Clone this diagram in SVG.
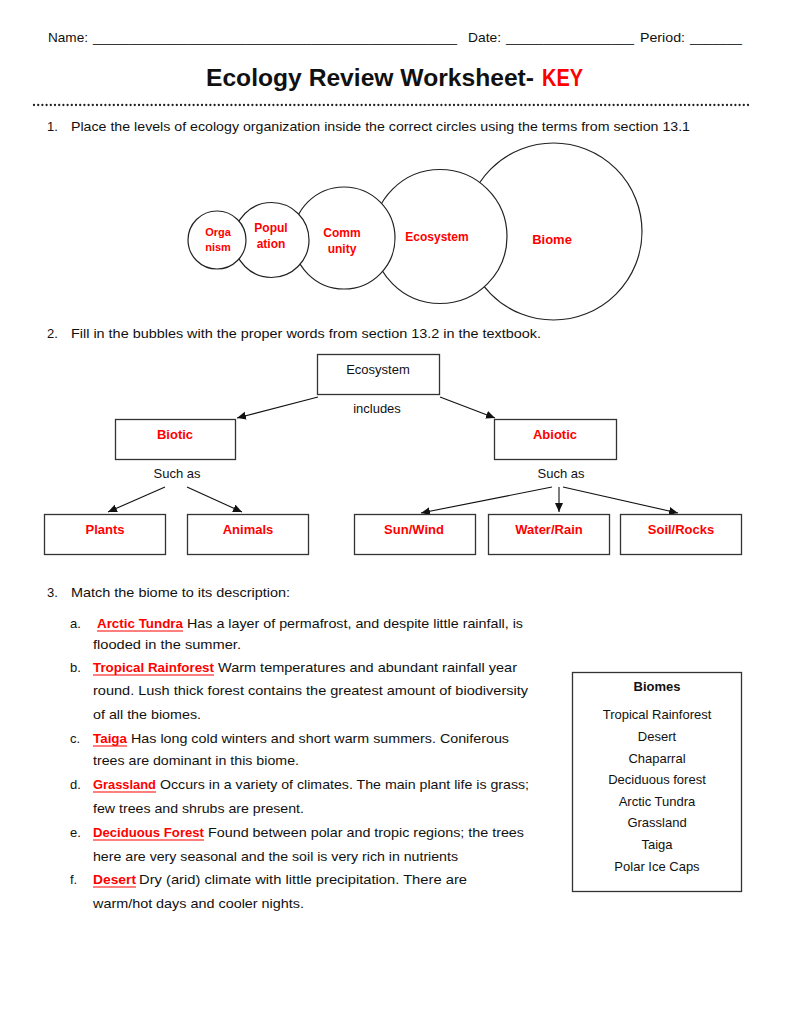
<svg xmlns="http://www.w3.org/2000/svg" width="791" height="1024" viewBox="0 0 791 1024">
<style>
text{font-family:"Liberation Sans",Arial,sans-serif;fill:#111}
.t{font-size:13px}
.red{fill:#ff0000;font-weight:bold}
.b{font-weight:bold}
.box{fill:#fff;stroke:#333;stroke-width:1.3}
.circ{fill:#fff;stroke:#222;stroke-width:1.2}
.cl{font-size:11.5px;fill:#ff0000;font-weight:bold;text-anchor:middle}
.fl{font-size:13px;fill:#ff0000;font-weight:bold;text-anchor:middle}
.conn line{stroke:#111;stroke-width:1.1;marker-end:url(#ah)}
.ul{stroke:#ff0000;stroke-width:1.1}
.mid{text-anchor:middle}
</style>
<defs>
<marker id="ah" markerUnits="userSpaceOnUse" markerWidth="10" markerHeight="10" refX="9" refY="4" orient="auto">
<path d="M0,0 L9,4 L0,8 Z" fill="#111"/>
</marker>
</defs>
<rect width="791" height="1024" fill="#fff"/>

<g id="header">
<text class="t" x="48" y="42" textLength="40" lengthAdjust="spacingAndGlyphs">Name:</text>
<text class="t" x="93" y="42" textLength="364" lengthAdjust="spacingAndGlyphs">__________________________________________________</text>
<text class="t" x="468" y="42" textLength="33" lengthAdjust="spacingAndGlyphs">Date:</text>
<text class="t" x="506" y="42" textLength="128" lengthAdjust="spacingAndGlyphs">_________________</text>
<text class="t" x="640" y="42" textLength="45" lengthAdjust="spacingAndGlyphs">Period:</text>
<text class="t" x="690" y="42" textLength="52" lengthAdjust="spacingAndGlyphs">_______</text>
<text x="206" y="86" font-size="24.5" font-weight="bold" textLength="328" lengthAdjust="spacingAndGlyphs">Ecology Review Worksheet-</text>
<text x="542" y="86" font-size="24.5" font-weight="bold" style="fill:#ff0000" textLength="41" lengthAdjust="spacingAndGlyphs">KEY</text>
<line x1="34" y1="105" x2="750" y2="105" stroke="#222" stroke-width="2.3" stroke-linecap="round" stroke-dasharray="0 4.2"/>
</g>

<g id="q1">
<text class="t" x="47" y="131">1.</text>
<text class="t" x="71" y="131" textLength="619" lengthAdjust="spacingAndGlyphs">Place the levels of ecology organization inside the correct circles using the terms from section 13.1</text>
</g>

<g id="circle-biome">
<circle class="circ" cx="553.5" cy="231.5" r="88.5"/>
<text class="cl" x="552" y="244" style="font-size:13px">Biome</text>
</g>
<g id="circle-ecosystem">
<circle class="circ" cx="440" cy="236.5" r="67"/>
<text class="cl" x="437" y="241" style="font-size:12px">Ecosystem</text>
</g>
<g id="circle-community">
<circle class="circ" cx="344" cy="238" r="51"/>
<text class="cl" x="342" y="237" style="font-size:12px">Comm</text>
<text class="cl" x="342" y="253" style="font-size:12px">unity</text>
</g>
<g id="circle-population">
<circle class="circ" cx="271.5" cy="240" r="37.5"/>
<text class="cl" x="271" y="232" style="font-size:12px">Popul</text>
<text class="cl" x="271" y="248" style="font-size:12px">ation</text>
</g>
<g id="circle-organism">
<circle class="circ" cx="217" cy="240" r="29"/>
<text class="cl" x="218" y="236" style="font-size:11px">Orga</text>
<text class="cl" x="218" y="251" style="font-size:11px">nism</text>
</g>

<g id="q2">
<text class="t" x="47" y="338">2.</text>
<text class="t" x="71" y="338" textLength="470" lengthAdjust="spacingAndGlyphs">Fill in the bubbles with the proper words from section 13.2 in the textbook.</text>
</g>

<g class="conn" id="connectors">
<line x1="318" y1="397" x2="237" y2="418"/>
<line x1="440" y1="397" x2="495" y2="418"/>
<line x1="165" y1="487" x2="108" y2="512"/>
<line x1="187" y1="487" x2="242" y2="512"/>
<line x1="552" y1="487" x2="421" y2="513"/>
<line x1="559" y1="487" x2="559" y2="512"/>
<line x1="563" y1="487" x2="678" y2="513"/>
</g>

<g id="node-ecosystem">
<rect class="box" x="317.5" y="354.5" width="122" height="40"/>
<text class="t mid" x="378" y="374">Ecosystem</text>
</g>
<text id="label-includes" class="t mid" x="377" y="413">includes</text>
<g id="node-biotic">
<rect class="box" x="115.5" y="419.5" width="120" height="40"/>
<text class="fl" x="175" y="439">Biotic</text>
</g>
<g id="node-abiotic">
<rect class="box" x="494.5" y="419.5" width="122" height="40"/>
<text class="fl" x="555" y="439">Abiotic</text>
</g>
<text id="label-suchas-1" class="t mid" x="177" y="478">Such as</text>
<text id="label-suchas-2" class="t mid" x="561" y="478">Such as</text>
<g id="node-plants">
<rect class="box" x="44.5" y="514.5" width="121" height="40"/>
<text class="fl" x="105" y="534">Plants</text>
</g>
<g id="node-animals">
<rect class="box" x="187.5" y="514.5" width="121" height="40"/>
<text class="fl" x="248" y="534">Animals</text>
</g>
<g id="node-sunwind">
<rect class="box" x="354.5" y="514.5" width="121" height="40"/>
<text class="fl" x="414" y="534">Sun/Wind</text>
</g>
<g id="node-waterrain">
<rect class="box" x="488.5" y="514.5" width="121" height="40"/>
<text class="fl" x="549" y="534">Water/Rain</text>
</g>
<g id="node-soilrocks">
<rect class="box" x="620.5" y="514.5" width="121" height="40"/>
<text class="fl" x="681" y="534">Soil/Rocks</text>
</g>

<g id="q3">
<text class="t" x="47" y="597">3.</text>
<text class="t" x="71" y="597" textLength="219" lengthAdjust="spacingAndGlyphs">Match the biome to its description:</text>

<text class="t" x="70" y="628">a.</text>
<text class="t red" x="97" y="628" textLength="86" lengthAdjust="spacingAndGlyphs">Arctic Tundra</text>
<line class="ul" x1="97" y1="631" x2="183" y2="631"/>
<text class="t" x="187" y="628" textLength="336" lengthAdjust="spacingAndGlyphs">Has a layer of permafrost, and despite little rainfall, is</text>
<text class="t" x="93" y="649" textLength="148" lengthAdjust="spacingAndGlyphs">flooded in the summer.</text>

<text class="t" x="70" y="672">b.</text>
<text class="t red" x="93" y="672" textLength="121" lengthAdjust="spacingAndGlyphs">Tropical Rainforest</text>
<line class="ul" x1="93" y1="675" x2="214" y2="675"/>
<text class="t" x="218" y="672" textLength="299" lengthAdjust="spacingAndGlyphs">Warm temperatures and abundant rainfall year</text>
<text class="t" x="93" y="695" textLength="435" lengthAdjust="spacingAndGlyphs">round.  Lush thick forest contains the greatest amount of biodiversity</text>
<text class="t" x="93" y="719" textLength="108" lengthAdjust="spacingAndGlyphs">of all the biomes.</text>

<text class="t" x="70" y="743">c.</text>
<text class="t red" x="93" y="743" textLength="34" lengthAdjust="spacingAndGlyphs">Taiga</text>
<line class="ul" x1="93" y1="746" x2="127" y2="746"/>
<text class="t" x="131" y="743" textLength="378" lengthAdjust="spacingAndGlyphs">Has long cold winters and short warm summers.  Coniferous</text>
<text class="t" x="93" y="765" textLength="206" lengthAdjust="spacingAndGlyphs">trees are dominant in this biome.</text>

<text class="t" x="70" y="789">d.</text>
<text class="t red" x="93" y="789" textLength="63" lengthAdjust="spacingAndGlyphs">Grassland</text>
<line class="ul" x1="93" y1="792" x2="156" y2="792"/>
<text class="t" x="160" y="789" textLength="369" lengthAdjust="spacingAndGlyphs">Occurs in a variety of climates.  The main plant life is grass;</text>
<text class="t" x="93" y="813" textLength="211" lengthAdjust="spacingAndGlyphs">few trees and shrubs are present.</text>

<text class="t" x="70" y="837">e.</text>
<text class="t red" x="93" y="837" textLength="111" lengthAdjust="spacingAndGlyphs">Deciduous Forest</text>
<line class="ul" x1="93" y1="840" x2="204" y2="840"/>
<text class="t" x="208" y="837" textLength="316" lengthAdjust="spacingAndGlyphs">Found between polar and tropic regions; the trees</text>
<text class="t" x="93" y="861" textLength="365" lengthAdjust="spacingAndGlyphs">here are very seasonal and the soil is very rich in nutrients</text>

<text class="t" x="70" y="884">f.</text>
<text class="t red" x="93" y="884" textLength="43" lengthAdjust="spacingAndGlyphs">Desert</text>
<line class="ul" x1="93" y1="887" x2="136" y2="887"/>
<text class="t" x="139" y="884" textLength="328" lengthAdjust="spacingAndGlyphs">Dry (arid) climate with little precipitation.  There are</text>
<text class="t" x="93" y="908" textLength="211" lengthAdjust="spacingAndGlyphs">warm/hot days and cooler nights.</text>
</g>

<g id="biomes-box">
<rect class="box" x="572.5" y="672.5" width="169" height="219"/>
<text class="t b mid" x="657" y="691">Biomes</text>
<text class="t mid" x="657" y="719">Tropical Rainforest</text>
<text class="t mid" x="657" y="741">Desert</text>
<text class="t mid" x="657" y="763">Chaparral</text>
<text class="t mid" x="657" y="784">Deciduous forest</text>
<text class="t mid" x="657" y="806">Arctic Tundra</text>
<text class="t mid" x="657" y="827">Grassland</text>
<text class="t mid" x="657" y="849">Taiga</text>
<text class="t mid" x="657" y="871">Polar Ice Caps</text>
</g>
</svg>
